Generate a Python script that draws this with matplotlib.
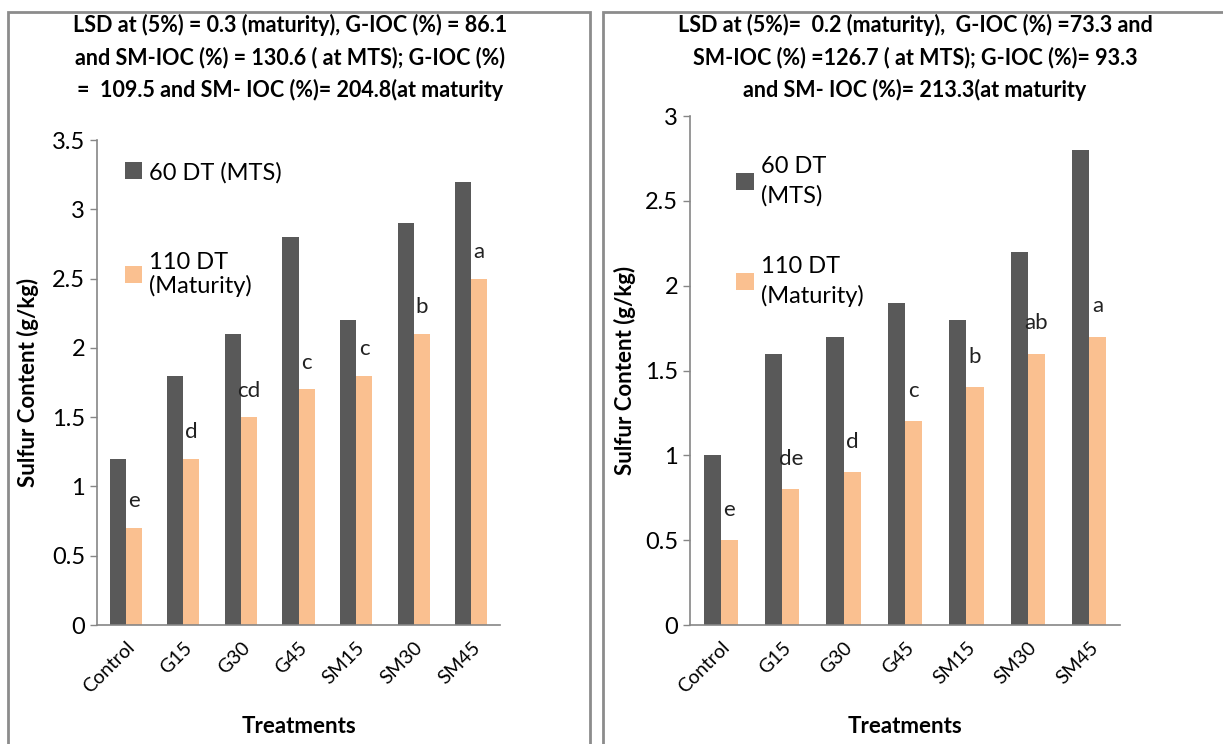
import numpy as np
import matplotlib.pyplot as plt
import matplotlib.transforms as mtransforms
from matplotlib.patches import Rectangle

plt.rcParams['font.family'] = ['Lato', 'DejaVu Sans']

treatments = ['Control', 'G15', 'G30', 'G45', 'SM15', 'SM30', 'SM45']

# left panel
mts_left = [1.2, 1.8, 2.1, 2.8, 2.2, 2.9, 3.2]
mat_left = [0.7, 1.2, 1.5, 1.7, 1.8, 2.1, 2.5]
letters_left = ['e', 'd', 'cd', 'c', 'c', 'b', 'a']
title_left = ('LSD at (5%) = 0.3 (maturity), G-IOC (%) = 86.1\n'
              'and SM-IOC (%) = 130.6 ( at MTS); G-IOC (%)\n'
              '=  109.5 and SM- IOC (%)= 204.8(at maturity')

# right panel
mts_right = [1.0, 1.6, 1.7, 1.9, 1.8, 2.2, 2.8]
mat_right = [0.5, 0.8, 0.9, 1.2, 1.4, 1.6, 1.7]
letters_right = ['e', 'de', 'd', 'c', 'b', 'ab', 'a']
title_right = ('LSD at (5%)=  0.2 (maturity),  G-IOC (%) =73.3 and\n'
               'SM-IOC (%) =126.7 ( at MTS); G-IOC (%)= 93.3\n'
               'and SM- IOC (%)= 213.3(at maturity')

dark = '#595959'
orange = '#FAC090'
axcol = '#868686'

fig = plt.figure(figsize=(12.23, 7.44), dpi=100)

# panel frames
for x0, w in [(8/1223, 582/1223), (603/1223, 625/1223)]:
    fig.patches.append(Rectangle((x0, -0.05), w, 1.05 - 12/744, transform=fig.transFigure,
                                 fill=False, edgecolor='#8c8c8c', lw=2.0))


def draw(ax, mts, mat, letters, ymax, labels, leg_anchor, lsp, tsp):
    x = np.arange(len(treatments))
    w = 0.28
    ax.bar(x - w/2, mts, w, color=dark, label=labels[0])
    ax.bar(x + w/2, mat, w, color=orange, label=labels[1])
    for xi, v, s in zip(x, mat, letters):
        ax.text(xi + w/2, v + 0.12, s, ha='center', va='bottom', fontsize=16, color='#222222')
    ax.set_xlim(-0.5, len(treatments) - 0.5)
    ax.set_ylim(0, ymax)
    ax.set_yticks(np.arange(0, ymax + 0.01, 0.5))
    ax.set_yticklabels(['%g' % t for t in np.arange(0, ymax + 0.01, 0.5)])
    ax.set_xticks(x)
    ax.set_xticklabels(treatments, rotation=45, ha='right', rotation_mode='anchor', fontsize=14)
    off = mtransforms.ScaledTranslation(8/100, 0, fig.dpi_scale_trans)
    for lab in ax.get_xticklabels():
        lab.set_transform(lab.get_transform() + off)
    ax.tick_params(axis='y', labelsize=17, length=5, color=axcol, width=1)
    ax.tick_params(axis='x', length=0, pad=10)
    for s in ['top', 'right']:
        ax.spines[s].set_visible(False)
    for s in ['left', 'bottom']:
        ax.spines[s].set_color(axcol)
        ax.spines[s].set_linewidth(1.2)
    ax.set_ylabel('Sulfur Content (g/kg)', fontsize=16, fontweight='bold')
    ax.set_xlabel('Treatments', fontsize=16, fontweight='bold', labelpad=14)
    leg = ax.legend(loc='upper left', bbox_to_anchor=leg_anchor, frameon=False, fontsize=17,
                    handlelength=0.75, handleheight=0.75, handletextpad=0.3, labelspacing=lsp,
                    borderaxespad=0)
    for t in leg.get_texts():
        t.set_linespacing(tsp)


ax1 = fig.add_axes([97/1223, 1 - 625/744, 403/1223, 485/744])
draw(ax1, mts_left, mat_left, letters_left, 3.5, ['60 DT (MTS)', '110 DT\n(Maturity)'],
     (0.045, 0.975), 2.9, 1.15)
ax1.yaxis.set_label_coords(-0.145, 0.5)
fig.text(290/1223, 1 - 14/744, title_left, ha='center', va='top', fontsize=15.5,
         fontweight='bold', linespacing=1.6)

ax2 = fig.add_axes([690/1223, 1 - 625/744, 430/1223, 509/744])
draw(ax2, mts_right, mat_right, letters_right, 3.0, ['60 DT\n(MTS)', '110 DT\n(Maturity)'],
     (0.085, 0.94), 2.1, 1.45)
ax2.yaxis.set_label_coords(-0.125, 0.5)
fig.text(915/1223, 1 - 14/744, title_right, ha='center', va='top', fontsize=15.5,
         fontweight='bold', linespacing=1.6)

fig.savefig('out.png', dpi=100)
